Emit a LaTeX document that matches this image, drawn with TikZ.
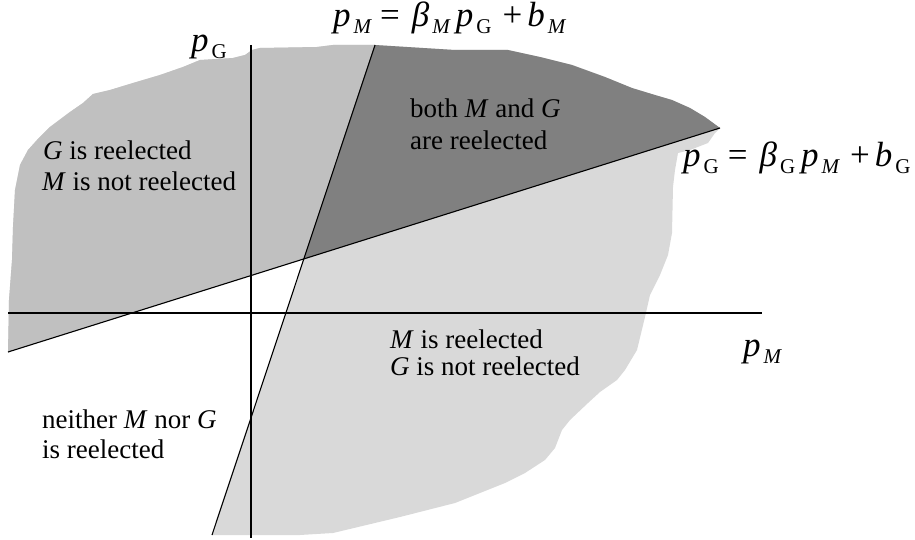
\documentclass[tikz,border=0pt]{standalone}
\usepackage{fontspec}
\setmainfont{Liberation Serif}
\definecolor{midgray}{HTML}{C0C0C0}
\definecolor{darkgray2}{HTML}{808080}
\definecolor{lightgray2}{HTML}{D9D9D9}
\newcommand\subM{\kern3pt\raisebox{-7pt}{\fontsize{21}{21}\selectfont\itshape M}}
\newcommand\subG{\kern3pt\raisebox{-7pt}{\fontsize{21}{21}\selectfont G}}
\newcommand\vp{\textit{p}}
\newcommand\eqs{\hspace{9pt}=\hspace{12pt}}
\newcommand\pls{\hspace{11pt}+\hspace{5pt}}
\begin{document}
\begin{tikzpicture}[x=1pt,y=-1pt,
  lbl/.style={anchor=base west, inner sep=0pt, font=\fontsize{27}{30}\selectfont},
  eq/.style={anchor=base west, inner sep=0pt, font=\fontsize{35}{38}\selectfont},
  axis/.style={line width=1.6pt},
  border/.style={line width=1.1pt}]
\useasboundingbox (0,0) rectangle (915,540);
\coordinate (sT) at (375,45);
\coordinate (sB) at (212,535);
\coordinate (hL) at (8,352);
\coordinate (hR) at (720,128);
\coordinate (X) at (intersection of sT--sB and hL--hR);
\coordinate (vT) at (251,45);
\coordinate (vB) at (251,538);
\coordinate (aL) at (8,313);
\coordinate (aR) at (762,313);
% regions
\begin{scope}
\clip (hL) -- (9,300) -- (12,260) -- (13,227) -- (15,190) -- (20,165) -- (28,150)
  -- (37,140) -- (50,127) -- (70,112) -- (83,103) -- (93,94) -- (110,90) -- (133,83)
  -- (160,75) -- (183,67) -- (200,60) -- (233,58) -- (245,55) -- (252,50) -- (260,48)
  -- (317,47) -- (333,45) -- (375,45) -- (455,50) -- (508,50) -- (540,57) -- (572,65)
  -- (605,77) -- (632,88) -- (655,95) -- (672,100) -- (690,108) -- (705,117) -- (hR)
  -- (715,133) -- (708,143) -- (690,150) -- (678,153) -- (675,170) -- (673,187)
  -- (672,233) -- (668,255) -- (660,275) -- (650,295) -- (645,317) -- (637,350)
  -- (625,370) -- (617,380) -- (600,392) -- (588,403) -- (570,420) -- (562,430)
  -- (555,448) -- (545,460) -- (525,473) -- (505,483) -- (480,493) -- (455,503)
  -- (400,517) -- (333,533) -- (300,535) -- (253,535) -- (sB) -- (X) -- cycle;
\fill[lightgray2] (0,0) rectangle (915,540);
\fill[midgray] (0,354.5) -- (X) -- (390,0) -- (0,0) -- cycle;
\fill[darkgray2] (X) -- (390,0) -- (915,0) -- (915,66.65) -- cycle;
\end{scope}
% lines
\draw[axis] (vT) -- (vB);
\draw[axis] (aL) -- (aR);
\draw[border] (sT) -- (sB);
\draw[border] (hL) -- (hR);
% labels
\node[eq] (eqM) at (333,27) {\vp\subM\eqs\textit{β}\subM\hspace{6pt}\vp\subG\pls\textit{b}\subM};
\node[eq] (eqG) at (683,167) {\vp\subG\eqs\textit{β}\subG\hspace{6pt}\vp\subM\pls\textit{b}\subG};
\node[eq] (pG) at (191,52) {\vp\subG};
\node[eq] (pM) at (743,356) {\vp\subM};
\node[lbl] (l1a) at (43,160) {\textit{G} is reelected};
\node[lbl] (l1b) at (42,190) {\textit{M} is not reelected};
\node[lbl] (l2a) at (410,118) {both \textit{M} and \textit{G}};
\node[lbl] (l2b) at (410,150) {are reelected};
\node[lbl] (l3a) at (390,348) {\textit{M} is reelected};
\node[lbl] (l3b) at (390,375) {\textit{G} is not reelected};
\node[lbl] (l4a) at (42,428) {neither \textit{M} nor \textit{G}};
\node[lbl] (l4b) at (42,458) {is reelected};
\end{tikzpicture}
\end{document}
